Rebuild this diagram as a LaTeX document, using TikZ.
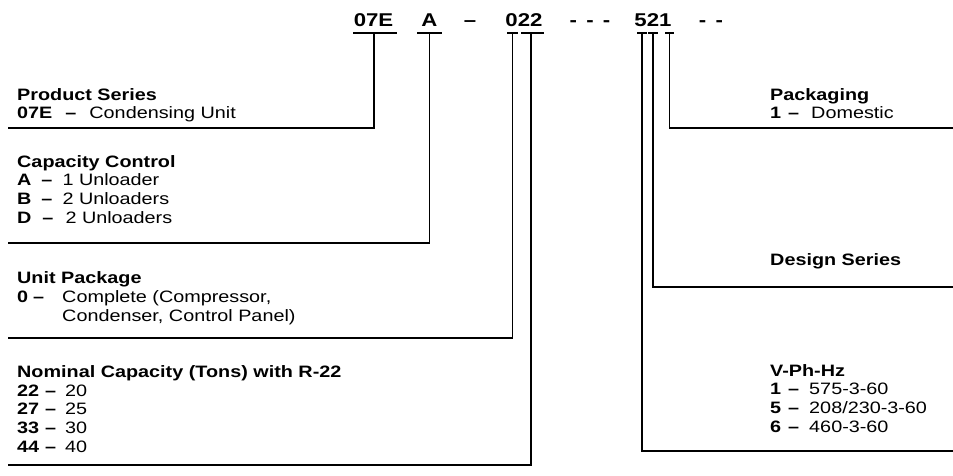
\documentclass[tikz,border=0pt]{standalone}
\usepackage{fontspec}
\setmainfont{Liberation Sans}[FakeStretch=1.2]
\newcommand{\kd}[3]{\textbf{#1}\hspace{#2}\textbf{–}\hspace{#3}}
\begin{document}
\begin{tikzpicture}[x=1pt,y=-1pt,
  lbl/.style={anchor=base west, inner sep=0pt, align=left, font=\fontsize{16.5}{18.6}\selectfont},
  codetxt/.style={anchor=base, inner sep=0pt, font=\fontsize{18.5}{20}\selectfont\bfseries},
  rule/.style={draw=black, line width=1.7pt}]
\useasboundingbox (0,0) rectangle (953,476);
% code letters
\node[codetxt] (c07E) at (373.5,26.5) {07E};
\node[codetxt] (cA) at (429.5,26.5) {A};
\node[codetxt] (cd1) at (470,26.5) {–};
\node[codetxt] (c022) at (524,26.5) {022};
\node[codetxt] (cd2) at (590,26.5) {-\, -\, -};
\node[codetxt] (c521) at (653,26.5) {521};
\node[codetxt] (cd3) at (711,26.5) {-\, -};
% labels, left (anchor = baseline of last line)
\node[lbl] (ps) at (17,119) {\textbf{Product Series}\\\kd{07E}{13pt}{13pt}Condensing Unit};
\node[lbl] (cc) at (17,223) {\textbf{Capacity Control}\\\kd{A}{10pt}{10pt}1 Unloader\\\kd{B}{10pt}{10pt}2 Unloaders\\\kd{D}{11pt}{12pt}2 Unloaders};
\node[lbl] (up) at (17,321) {\textbf{Unit Package}\\\kd{0}{5pt}{18pt}Complete (Compressor,\\\phantom{\kd{0}{5pt}{18pt}}Condenser, Control Panel)};
\node[lbl] (nc) at (17,452) {\textbf{Nominal Capacity (Tons) with R-22}\\\kd{22}{6pt}{9pt}20\\\kd{27}{6pt}{9pt}25\\\kd{33}{6pt}{9pt}30\\\kd{44}{6pt}{9pt}40};
% labels, right
\node[lbl] (pk) at (770,119) {\textbf{Packaging}\\\kd{1}{7pt}{12pt}Domestic};
\node[lbl] (ds) at (770,265) {\textbf{Design Series}};
\node[lbl] (vp) at (770,432) {\textbf{V-Ph-Hz}\\\kd{1}{7pt}{10pt}575-3-60\\\kd{5}{7pt}{10pt}208/230-3-60\\\kd{6}{7pt}{10pt}460-3-60};
% underline ends and rule ends
\coordinate (u1a) at (353,33); \coordinate (u1b) at (397,33); \coordinate (u1m) at (374,33);
\coordinate (u2a) at (417,33); \coordinate (u2b) at (442,33); \coordinate (u2m) at (429.5,33);
\coordinate (u3a) at (507,33); \coordinate (u3b) at (518,33); \coordinate (u3m) at (512.5,33);
\coordinate (u4a) at (521,33); \coordinate (u4b) at (544,33); \coordinate (u4m) at (531,33);
\coordinate (u5a) at (637,33); \coordinate (u5b) at (647,33); \coordinate (u5m) at (642,33);
\coordinate (u6a) at (648,33); \coordinate (u6b) at (658,33); \coordinate (u6m) at (653,33);
\coordinate (u7a) at (665,33); \coordinate (u7b) at (674,33); \coordinate (u7m) at (669.5,33);
\coordinate (e1) at (8,128);
\coordinate (e2) at (8,243);
\coordinate (e3) at (8,338);
\coordinate (e4) at (8,465);
\coordinate (e5) at (953,451);
\coordinate (e6) at (953,287);
\coordinate (e7) at (953,128);
% underlines
\foreach \u in {1,...,7} {\draw[rule] (u\u a) -- (u\u b);}
% connectors
\draw[rule] (u1m) |- (e1);
\draw[rule] (u2m) |- (e2);
\draw[rule] (u3m) |- (e3);
\draw[rule] (u4m) |- (e4);
\draw[rule] (u5m) |- (e5);
\draw[rule] (u6m) |- (e6);
\draw[rule] (u7m) |- (e7);
\end{tikzpicture}
\end{document}
